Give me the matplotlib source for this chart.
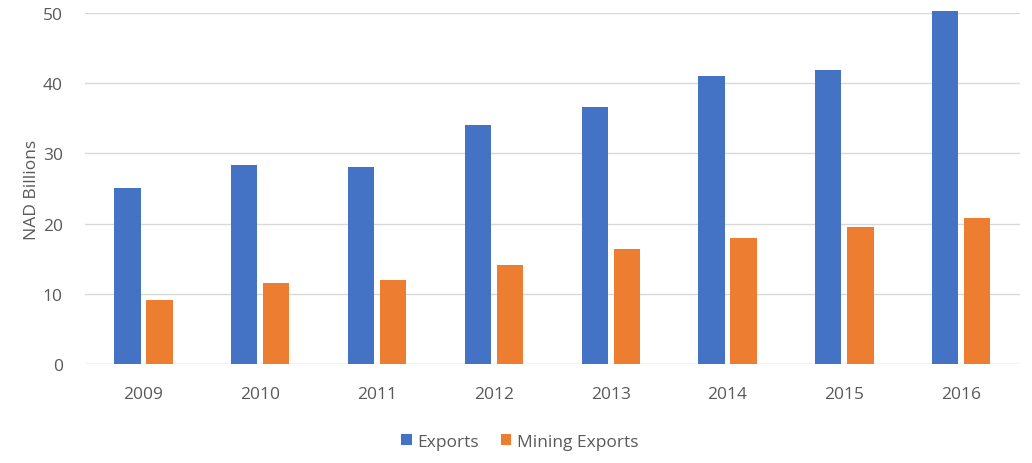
import matplotlib
matplotlib.use("Agg")
from matplotlib import pyplot as plt
import numpy as np

years = ["2009", "2010", "2011", "2012", "2013", "2014", "2015", "2016"]
exports = [25.0, 28.4, 28.0, 34.0, 36.6, 41.0, 41.9, 50.3]
mining_exports = [9.1, 11.6, 11.9, 14.1, 16.4, 18.0, 19.5, 20.8]

plt.rcParams['font.family'] = ['Open Sans', 'DejaVu Sans']

fig = plt.figure(figsize=(10.32, 4.64), dpi=100)
ax = fig.add_axes([0.0824, 0.2134, 0.9056, 0.7566])

x = np.arange(len(years))
w = 0.225
b1 = ax.bar(x - w/2 - 0.025, exports, w, color='#4472C4', label='Exports')
b2 = ax.bar(x + w/2 + 0.025, mining_exports, w, color='#ED7D31', label='Mining Exports')
# 2016 exports pokes just above the 50 line
for p in list(b1) + list(b2):
    p.set_clip_on(False)

ax.set_xlim(-0.5, len(years) - 0.5)
ax.set_ylim(0, 50)
ax.set_yticks(np.arange(0, 51, 10))
ax.set_xticks(x)
ax.set_xticklabels(years)
ax.yaxis.grid(True, color='#d9d9d9', linewidth=1)
ax.set_axisbelow(True)
for s in ax.spines.values():
    s.set_visible(False)
ax.axhline(0, color='#d9d9d9', linewidth=1, zorder=0)
ax.tick_params(length=0, colors='#595959', labelsize=12.5)
ax.tick_params(axis='x', pad=16)
ax.tick_params(axis='y', pad=16)
ax.set_ylabel('NAD Billions', color='#595959', fontsize=12.5, labelpad=2)

ax.legend(loc='upper center', bbox_to_anchor=(0.465, -0.155), ncol=2, frameon=False,
          fontsize=12.5, handlelength=0.6, handleheight=0.6, columnspacing=1.3,
          handletextpad=0.3, labelcolor='#595959')

fig.savefig('out.png', dpi=100)
